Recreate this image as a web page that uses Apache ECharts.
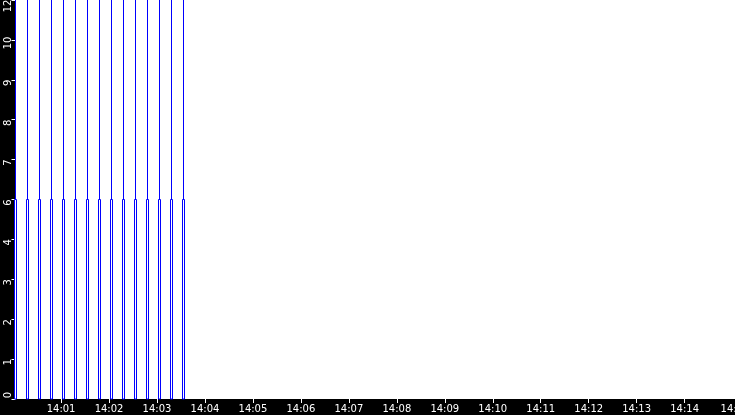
<!DOCTYPE html>
<html>
<head>
<meta charset="utf-8">
<script src="https://cdn.jsdelivr.net/npm/echarts@6/dist/echarts.min.js"></script>
<style>
html,body{margin:0;padding:0;background:#000;}
#chart{width:735px;height:415px;}
</style>
</head>
<body>
<div id="chart"></div>
<script>
// Data
var times = ["14:00:03","14:00:18","14:00:33","14:00:48","14:01:03","14:01:18","14:01:33","14:01:48",
             "14:02:03","14:02:18","14:02:33","14:02:48","14:03:03","14:03:18","14:03:33"];
var bodyTop = [6,6,6,6,6,6,6,6,6,6,6,6,6,6,6];
var lineTop = [12,12,12,12,12,12,12,12,12,12,12,12,12,12,12];
var yTickLabels = ["0","1","2","3","4","6","7","8","9","10","12"];
var day = "2024-01-01T";
var xMin = "14:00:03";
var xMax = "14:15:03";

function toMs(s){ return new Date(day + s).getTime(); }

var candleData = times.map(function(t, i){
  return [toMs(t), 0, bodyTop[i], 0, lineTop[i]];
});

var chart = echarts.init(document.getElementById('chart'));
chart.setOption({
  backgroundColor: '#000',
  animation: false,
  grid: {left: 15.5, right: 0, top: 0, bottom: 16, show: true, backgroundColor: '#fff', borderWidth: 0,
         containLabel: false, outerBoundsMode: 'none'},
  xAxis: {
    type: 'time',
    min: toMs(xMin),
    max: toMs(xMax),
    splitNumber: 15,
    axisLine: {show: false},
    axisTick: {show: true, length: 4, lineStyle: {color: '#fff', width: 1}},
    splitLine: {show: false},
    axisLabel: {
      color: '#fff', fontFamily: 'DejaVu Sans', fontSize: 10, margin: 5,
      showMinLabel: false, showMaxLabel: true, hideOverlap: false,
      formatter: function(v){
        var d = new Date(v);
        var h = d.getHours(), m = d.getMinutes();
        return (h<10?'0':'')+h + ':' + (m<10?'0':'')+m;
      }
    }
  },
  yAxis: {
    type: 'value', min: 0, max: 12, interval: 1.2,
    axisLine: {show: false},
    axisTick: {show: true, length: 4, lineStyle: {color: '#fff', width: 1}},
    splitLine: {show: false},
    axisLabel: {
      color: '#fff', fontFamily: 'DejaVu Sans', fontSize: 10, margin: 2, rotate: 90,
      showMinLabel: true, showMaxLabel: true,
      formatter: function(v){
        var i = Math.round(v/1.2);
        var k = i === 0 ? 'lo' : (i === yTickLabels.length - 1 ? 'hi' : 'mid');
        return '{' + k + '|' + yTickLabels[i] + '}';
      },
      rich: {
        lo: {color: '#fff', fontFamily: 'DejaVu Sans', fontSize: 10, padding: [0, 0, 0, 8]},
        mid: {color: '#fff', fontFamily: 'DejaVu Sans', fontSize: 10, padding: [0, 6, 0, 0]},
        hi: {color: '#fff', fontFamily: 'DejaVu Sans', fontSize: 10, padding: [0, 12, 0, 0]}
      }
    }
  },
  series: [{
    type: 'candlestick',
    encode: {x: 0, y: [1,2,3,4]},
    data: candleData,
    barWidth: 2,
    clip: true,
    itemStyle: {
      color: '#fff', color0: '#fff',
      borderColor: '#0000ff', borderColor0: '#0000ff', borderWidth: 1
    }
  }]
});
</script>
</body>
</html>
